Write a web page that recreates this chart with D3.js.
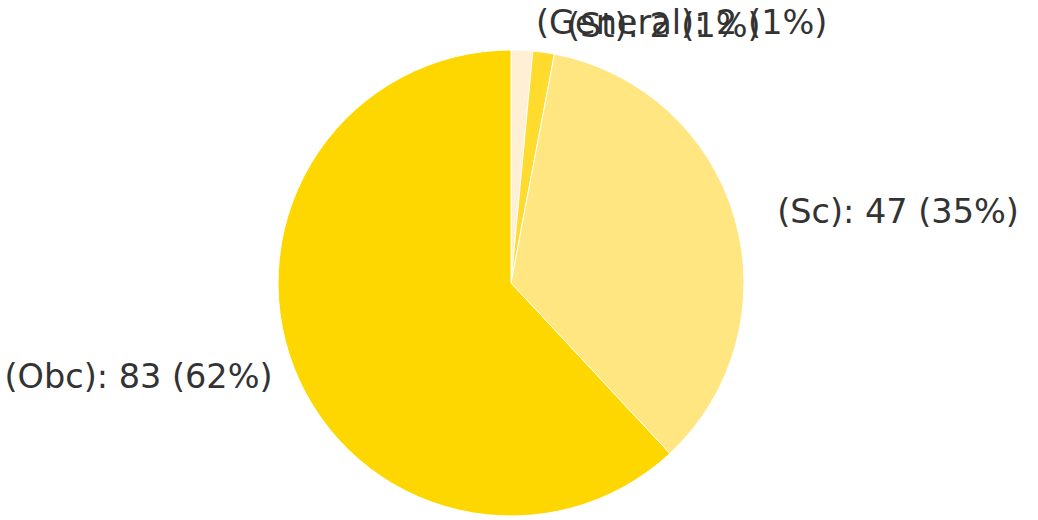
<!DOCTYPE html>
<html>
<head>
<meta charset="utf-8">
<script src="https://cdn.jsdelivr.net/npm/d3@7"></script>
<style>
  html, body { margin: 0; padding: 0; background: #ffffff; }
  svg { display: block; }
</style>
</head>
<body>
<svg id="chart" width="1038" height="520"></svg>
<script>
const categories = ["General", "St", "Sc", "Obc"];
const values = [2, 2, 47, 83];
const colors = ["#FFEFD5", "#FFDB2E", "#FFE680", "#FFD700"];

const W = 1038, H = 520;
const cx = 511, cy = 283, R = 233;
const total = d3.sum(values);

const svg = d3.select("#chart");
const g = svg.append("g").attr("transform", `translate(${cx},${cy})`);

const data = categories.map((c, i) => ({ cat: c, value: values[i], color: colors[i] }));

const pie = d3.pie().value(d => d.value).sort(null).startAngle(0).endAngle(2 * Math.PI);
const arcs = pie(data);
const arc = d3.arc().innerRadius(0).outerRadius(R);

g.selectAll("path.slice")
  .data(arcs)
  .enter().append("path")
  .attr("class", "slice")
  .attr("d", arc)
  .attr("fill", d => d.data.color)
  .attr("stroke", "#ffffff")
  .attr("stroke-width", 1);

const labelR = R * 1.1;
g.selectAll("text.lbl")
  .data(arcs)
  .enter().append("text")
  .attr("class", "lbl")
  .each(function(d, i) {
    const a = (d.startAngle + d.endAngle) / 2;
    const x = labelR * Math.sin(a);
    const y = -labelR * Math.cos(a);
    const right = x >= 0;
    d3.select(this)
      .attr("x", right ? x + (i === 0 ? 13 : 20) : x)
      .attr("y", y + (Math.abs(x) < 60 ? -4 : 0))
      .attr("text-anchor", right ? "start" : "end")
      .attr("dominant-baseline", "central");
  })
  .attr("font-family", "DejaVu Sans, sans-serif")
  .attr("font-size", 33.5)
  .attr("fill", "#333333")
  .text(d => `(${d.data.cat}): ${d.data.value} (${Math.round(d.data.value / total * 100)}%)`);
</script>
</body>
</html>
